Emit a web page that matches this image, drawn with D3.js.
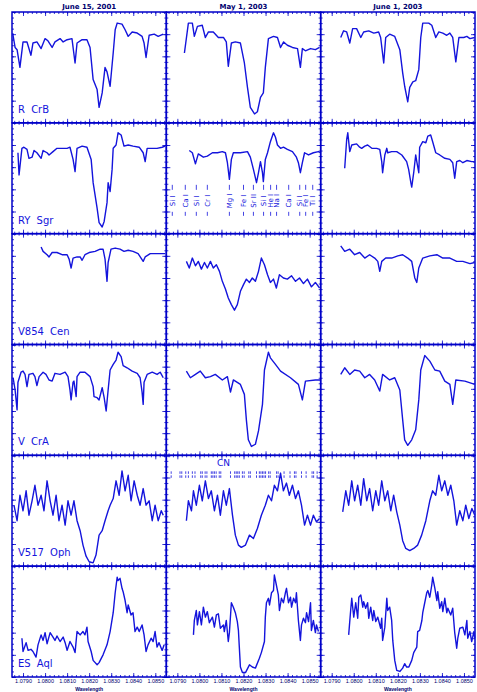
<html lang="en">
  <head>
    <meta charset="UTF-8" />
    <title>RCB star spectra</title>
    <script src="https://d3js.org/d3.v7.min.js"></script>
    <style>
      body { margin: 0; background: #fff; }
      svg { display: block; }
      .tick text { font-family: "Liberation Sans", Arial, sans-serif; }
    </style>
  </head>
  <body>
    <svg id="chart" width="477" height="692"></svg>
    <script>
      // dates of the three observing runs (columns) and the stars (rows)
      var dates = ["June 15, 2001", "May 1, 2003", "June 1, 2003"];
      var stars = ["R CrB", "RY Sgr", "V854 Cen", "V CrA", "V517 Oph", "ES Aql"];
      var xTicks = [1.079, 1.08, 1.081, 1.082, 1.083, 1.084, 1.085];

      // spectra: [wavelength (micron), normalised flux]
      var rcrb1 = [[1.07853,0.81],[1.07864,0.68],[1.07873,0.66],[1.07886,0.50],[1.07900,0.73],[1.07918,0.73],[1.07936,0.61],[1.07945,0.72],[1.07963,0.73],[1.07982,0.67],[1.08000,0.76],[1.08013,0.74],[1.08032,0.68],[1.08045,0.73],[1.08068,0.76],[1.08082,0.73],[1.08100,0.75],[1.08122,0.76],[1.08136,0.54],[1.08145,0.72],[1.08168,0.75],[1.08190,0.75],[1.08204,0.68],[1.08218,0.39],[1.08236,0.30],[1.08245,0.14],[1.08259,0.27],[1.08272,0.50],[1.08281,0.46],[1.08295,0.33],[1.08309,0.63],[1.08318,0.84],[1.08327,0.90],[1.08349,0.89],[1.08363,0.84],[1.08377,0.78],[1.08395,0.82],[1.08418,0.81],[1.08440,0.78],[1.08449,0.72],[1.08458,0.59],[1.08472,0.79],[1.08495,0.80],[1.08513,0.78],[1.08536,0.80]];
      var rcrb2 = [[1.07932,0.63],[1.07950,0.90],[1.07968,0.90],[1.07977,0.78],[1.07991,0.87],[1.08013,0.88],[1.08027,0.77],[1.08041,0.82],[1.08063,0.82],[1.08086,0.77],[1.08109,0.77],[1.08122,0.73],[1.08131,0.51],[1.08145,0.72],[1.08163,0.73],[1.08186,0.72],[1.08204,0.54],[1.08218,0.32],[1.08231,0.14],[1.08250,0.08],[1.08263,0.10],[1.08277,0.23],[1.08290,0.27],[1.08299,0.50],[1.08313,0.76],[1.08336,0.78],[1.08354,0.77],[1.08368,0.68],[1.08382,0.73],[1.08399,0.70],[1.08422,0.68],[1.08445,0.67],[1.08458,0.50],[1.08467,0.67],[1.08481,0.65],[1.08504,0.67],[1.08526,0.66],[1.08545,0.68]];
      var rcrb3 = [[1.07941,0.77],[1.07954,0.83],[1.07968,0.82],[1.07982,0.72],[1.07995,0.85],[1.08013,0.85],[1.08032,0.77],[1.08045,0.82],[1.08068,0.83],[1.08091,0.81],[1.08113,0.82],[1.08122,0.77],[1.08136,0.54],[1.08145,0.77],[1.08163,0.80],[1.08186,0.78],[1.08209,0.66],[1.08222,0.45],[1.08231,0.33],[1.08245,0.19],[1.08254,0.32],[1.08268,0.37],[1.08281,0.38],[1.08295,0.48],[1.08304,0.77],[1.08313,0.90],[1.08340,0.90],[1.08354,0.88],[1.08372,0.77],[1.08386,0.82],[1.08404,0.81],[1.08422,0.79],[1.08436,0.81],[1.08449,0.77],[1.08463,0.55],[1.08477,0.77],[1.08499,0.77],[1.08513,0.78],[1.08527,0.76],[1.08549,0.77]];

      var rysgr1 = [[1.07877,0.73],[1.07882,0.53],[1.07895,0.77],[1.07904,0.78],[1.07918,0.76],[1.07927,0.68],[1.07941,0.69],[1.07950,0.75],[1.07963,0.73],[1.07982,0.68],[1.07991,0.75],[1.08009,0.73],[1.08018,0.71],[1.08036,0.74],[1.08054,0.77],[1.08077,0.77],[1.08100,0.77],[1.08113,0.78],[1.08127,0.67],[1.08136,0.56],[1.08145,0.77],[1.08168,0.79],[1.08190,0.78],[1.08209,0.67],[1.08218,0.46],[1.08236,0.23],[1.08245,0.10],[1.08259,0.06],[1.08268,0.11],[1.08281,0.28],[1.08286,0.46],[1.08295,0.38],[1.08304,0.58],[1.08309,0.77],[1.08322,0.80],[1.08331,0.91],[1.08345,0.89],[1.08358,0.79],[1.08377,0.80],[1.08399,0.79],[1.08427,0.78],[1.08445,0.73],[1.08454,0.65],[1.08463,0.77],[1.08486,0.77],[1.08508,0.77],[1.08531,0.78],[1.08545,0.79]];
      var rysgr2 = [[1.07954,0.75],[1.07968,0.73],[1.07982,0.63],[1.07995,0.72],[1.08018,0.69],[1.08036,0.70],[1.08059,0.73],[1.08082,0.73],[1.08104,0.74],[1.08118,0.73],[1.08127,0.64],[1.08136,0.49],[1.08145,0.67],[1.08154,0.73],[1.08186,0.73],[1.08218,0.74],[1.08231,0.69],[1.08245,0.58],[1.08259,0.46],[1.08268,0.55],[1.08277,0.65],[1.08286,0.55],[1.08290,0.47],[1.08299,0.67],[1.08309,0.73],[1.08322,0.83],[1.08336,0.91],[1.08345,0.87],[1.08354,0.80],[1.08368,0.77],[1.08381,0.78],[1.08399,0.76],[1.08422,0.74],[1.08440,0.69],[1.08449,0.64],[1.08458,0.55],[1.08467,0.64],[1.08477,0.73],[1.08495,0.71],[1.08517,0.73],[1.08540,0.74],[1.08549,0.73]];
      var rysgr3 = [[1.07959,0.59],[1.07968,0.85],[1.07973,0.91],[1.07982,0.74],[1.07991,0.80],[1.08013,0.81],[1.08027,0.78],[1.08036,0.77],[1.08050,0.79],[1.08063,0.80],[1.08082,0.77],[1.08104,0.77],[1.08118,0.76],[1.08127,0.65],[1.08131,0.55],[1.08141,0.71],[1.08150,0.77],[1.08154,0.73],[1.08172,0.74],[1.08195,0.74],[1.08218,0.71],[1.08240,0.65],[1.08249,0.58],[1.08259,0.46],[1.08263,0.42],[1.08272,0.55],[1.08281,0.71],[1.08286,0.65],[1.08295,0.55],[1.08299,0.78],[1.08313,0.83],[1.08327,0.82],[1.08336,0.88],[1.08349,0.89],[1.08358,0.83],[1.08372,0.73],[1.08390,0.71],[1.08413,0.68],[1.08436,0.67],[1.08449,0.64],[1.08458,0.50],[1.08467,0.65],[1.08481,0.66],[1.08495,0.64],[1.08513,0.66],[1.08535,0.65],[1.08549,0.65]];

      var v854a = [[1.07982,0.88],[1.07991,0.84],[1.08009,0.81],[1.08018,0.79],[1.08032,0.83],[1.08054,0.83],[1.08077,0.81],[1.08100,0.81],[1.08109,0.77],[1.08118,0.69],[1.08127,0.78],[1.08145,0.79],[1.08159,0.79],[1.08168,0.76],[1.08181,0.81],[1.08200,0.83],[1.08227,0.84],[1.08250,0.86],[1.08263,0.86],[1.08272,0.77],[1.08281,0.57],[1.08286,0.74],[1.08299,0.86],[1.08318,0.87],[1.08340,0.86],[1.08358,0.84],[1.08377,0.85],[1.08399,0.84],[1.08422,0.82],[1.08445,0.75],[1.08454,0.79],[1.08477,0.82],[1.08508,0.82],[1.08545,0.82]];
      var v854b = [[1.07941,0.75],[1.07954,0.69],[1.07968,0.78],[1.07982,0.71],[1.07995,0.75],[1.08009,0.68],[1.08023,0.74],[1.08036,0.69],[1.08050,0.75],[1.08063,0.69],[1.08077,0.72],[1.08091,0.66],[1.08104,0.57],[1.08118,0.50],[1.08131,0.42],[1.08145,0.36],[1.08159,0.31],[1.08172,0.36],[1.08186,0.48],[1.08200,0.54],[1.08213,0.59],[1.08227,0.56],[1.08240,0.60],[1.08254,0.57],[1.08268,0.66],[1.08281,0.78],[1.08295,0.72],[1.08309,0.63],[1.08322,0.56],[1.08336,0.59],[1.08349,0.51],[1.08363,0.63],[1.08381,0.60],[1.08399,0.59],[1.08418,0.62],[1.08436,0.57],[1.08454,0.60],[1.08472,0.55],[1.08490,0.59],[1.08508,0.52],[1.08526,0.56],[1.08545,0.51]];
      var v854c = [[1.07941,0.89],[1.07959,0.84],[1.07982,0.86],[1.08004,0.81],[1.08027,0.83],[1.08050,0.78],[1.08072,0.81],[1.08095,0.78],[1.08109,0.75],[1.08118,0.66],[1.08127,0.75],[1.08145,0.78],[1.08172,0.78],[1.08200,0.80],[1.08222,0.81],[1.08245,0.78],[1.08263,0.75],[1.08277,0.60],[1.08286,0.56],[1.08295,0.69],[1.08313,0.78],[1.08345,0.80],[1.08377,0.81],[1.08404,0.78],[1.08436,0.78],[1.08467,0.75],[1.08495,0.75],[1.08527,0.73],[1.08549,0.74]];

      var vcra1 = [[1.07855,0.70],[1.07864,0.59],[1.07873,0.41],[1.07877,0.66],[1.07891,0.75],[1.07900,0.76],[1.07909,0.73],[1.07918,0.62],[1.07927,0.73],[1.07945,0.74],[1.07954,0.71],[1.07963,0.63],[1.07973,0.71],[1.07991,0.75],[1.08004,0.73],[1.08018,0.68],[1.08032,0.67],[1.08045,0.74],[1.08068,0.73],[1.08091,0.75],[1.08104,0.71],[1.08113,0.59],[1.08118,0.50],[1.08127,0.66],[1.08131,0.67],[1.08141,0.53],[1.08145,0.71],[1.08159,0.75],[1.08181,0.75],[1.08204,0.71],[1.08218,0.62],[1.08222,0.53],[1.08236,0.52],[1.08245,0.50],[1.08259,0.61],[1.08268,0.52],[1.08277,0.40],[1.08286,0.59],[1.08295,0.77],[1.08309,0.82],[1.08322,0.86],[1.08331,0.93],[1.08345,0.89],[1.08354,0.81],[1.08372,0.79],[1.08395,0.76],[1.08418,0.74],[1.08431,0.70],[1.08440,0.57],[1.08445,0.46],[1.08449,0.66],[1.08463,0.73],[1.08486,0.75],[1.08508,0.73],[1.08522,0.75],[1.08536,0.70]];
      var vcra2 = [[1.07941,0.76],[1.07959,0.70],[1.07982,0.73],[1.08004,0.76],[1.08027,0.70],[1.08050,0.71],[1.08072,0.73],[1.08104,0.68],[1.08127,0.71],[1.08141,0.57],[1.08154,0.68],[1.08186,0.64],[1.08204,0.55],[1.08213,0.32],[1.08222,0.14],[1.08236,0.08],[1.08254,0.10],[1.08268,0.22],[1.08286,0.46],[1.08295,0.77],[1.08313,0.93],[1.08322,0.88],[1.08345,0.82],[1.08368,0.76],[1.08413,0.70],[1.08449,0.64],[1.08467,0.50],[1.08481,0.67],[1.08526,0.68],[1.08549,0.68]];
      var vcra3 = [[1.07941,0.73],[1.07959,0.79],[1.07982,0.73],[1.08004,0.77],[1.08027,0.76],[1.08050,0.70],[1.08072,0.73],[1.08095,0.68],[1.08118,0.58],[1.08131,0.73],[1.08163,0.68],[1.08186,0.70],[1.08209,0.59],[1.08222,0.32],[1.08231,0.14],[1.08245,0.09],[1.08263,0.14],[1.08281,0.23],[1.08295,0.50],[1.08304,0.77],[1.08322,0.90],[1.08345,0.85],[1.08368,0.77],[1.08390,0.76],[1.08413,0.67],[1.08436,0.64],[1.08449,0.46],[1.08463,0.68],[1.08504,0.67],[1.08549,0.64]];

      var v517a = [[1.07859,0.55],[1.07873,0.41],[1.07886,0.64],[1.07900,0.50],[1.07914,0.68],[1.07927,0.46],[1.07941,0.59],[1.07954,0.73],[1.07968,0.55],[1.07982,0.64],[1.07995,0.50],[1.08009,0.77],[1.08023,0.59],[1.08036,0.46],[1.08050,0.64],[1.08063,0.41],[1.08077,0.55],[1.08091,0.37],[1.08104,0.59],[1.08118,0.46],[1.08131,0.59],[1.08145,0.41],[1.08159,0.32],[1.08172,0.19],[1.08186,0.09],[1.08200,0.04],[1.08218,0.03],[1.08231,0.10],[1.08245,0.28],[1.08259,0.32],[1.08272,0.41],[1.08286,0.50],[1.08295,0.55],[1.08309,0.61],[1.08322,0.77],[1.08336,0.64],[1.08349,0.86],[1.08363,0.68],[1.08377,0.82],[1.08390,0.59],[1.08404,0.77],[1.08418,0.64],[1.08431,0.55],[1.08445,0.70],[1.08458,0.55],[1.08472,0.59],[1.08486,0.41],[1.08499,0.55],[1.08513,0.41],[1.08527,0.50],[1.08536,0.46]];
      var v517b = [[1.07941,0.41],[1.07950,0.59],[1.07964,0.50],[1.07973,0.68],[1.07986,0.55],[1.08000,0.73],[1.08013,0.59],[1.08027,0.77],[1.08041,0.61],[1.08054,0.68],[1.08068,0.50],[1.08082,0.64],[1.08095,0.46],[1.08109,0.68],[1.08122,0.55],[1.08136,0.70],[1.08150,0.46],[1.08163,0.28],[1.08177,0.19],[1.08190,0.17],[1.08209,0.19],[1.08227,0.28],[1.08245,0.25],[1.08263,0.34],[1.08281,0.46],[1.08299,0.55],[1.08313,0.64],[1.08327,0.59],[1.08340,0.73],[1.08354,0.68],[1.08368,0.84],[1.08381,0.68],[1.08395,0.75],[1.08408,0.64],[1.08422,0.73],[1.08436,0.61],[1.08449,0.68],[1.08463,0.55],[1.08477,0.37],[1.08490,0.46],[1.08504,0.37],[1.08517,0.46],[1.08531,0.40],[1.08545,0.43]];
      var v517c = [[1.07950,0.49],[1.07964,0.68],[1.07977,0.55],[1.07991,0.77],[1.08004,0.59],[1.08018,0.73],[1.08032,0.55],[1.08045,0.79],[1.08059,0.59],[1.08072,0.70],[1.08086,0.50],[1.08100,0.68],[1.08113,0.55],[1.08127,0.77],[1.08141,0.59],[1.08154,0.68],[1.08168,0.50],[1.08181,0.64],[1.08195,0.49],[1.08209,0.37],[1.08222,0.23],[1.08236,0.16],[1.08254,0.14],[1.08272,0.16],[1.08290,0.19],[1.08308,0.28],[1.08327,0.41],[1.08345,0.59],[1.08358,0.68],[1.08372,0.64],[1.08386,0.82],[1.08399,0.68],[1.08413,0.77],[1.08427,0.64],[1.08440,0.73],[1.08454,0.59],[1.08467,0.37],[1.08481,0.50],[1.08495,0.41],[1.08508,0.55],[1.08522,0.43],[1.08536,0.52],[1.08549,0.46]];

      var esaql1 = [[1.07895,0.35],[1.07900,0.23],[1.07914,0.31],[1.07923,0.24],[1.07936,0.25],[1.07945,0.23],[1.07959,0.18],[1.07968,0.29],[1.07982,0.38],[1.07991,0.33],[1.08000,0.40],[1.08009,0.30],[1.08023,0.40],[1.08036,0.36],[1.08045,0.33],[1.08054,0.37],[1.08068,0.32],[1.08082,0.36],[1.08091,0.31],[1.08100,0.24],[1.08113,0.32],[1.08127,0.27],[1.08136,0.22],[1.08145,0.41],[1.08159,0.38],[1.08172,0.41],[1.08181,0.38],[1.08190,0.45],[1.08195,0.32],[1.08209,0.23],[1.08218,0.15],[1.08236,0.11],[1.08245,0.13],[1.08263,0.20],[1.08281,0.29],[1.08295,0.41],[1.08309,0.58],[1.08318,0.76],[1.08327,0.90],[1.08331,0.87],[1.08340,0.89],[1.08349,0.80],[1.08354,0.77],[1.08363,0.69],[1.08372,0.58],[1.08377,0.65],[1.08390,0.56],[1.08399,0.58],[1.08408,0.41],[1.08418,0.45],[1.08427,0.41],[1.08440,0.47],[1.08449,0.38],[1.08458,0.23],[1.08467,0.29],[1.08481,0.35],[1.08490,0.32],[1.08499,0.41],[1.08508,0.27],[1.08517,0.31],[1.08531,0.24],[1.08540,0.29]];
      var esaql2 = [[1.07973,0.38],[1.07977,0.51],[1.07986,0.60],[1.07991,0.47],[1.08000,0.59],[1.08009,0.47],[1.08018,0.63],[1.08027,0.54],[1.08036,0.59],[1.08045,0.49],[1.08059,0.54],[1.08068,0.45],[1.08077,0.56],[1.08086,0.57],[1.08095,0.44],[1.08109,0.47],[1.08113,0.41],[1.08122,0.51],[1.08131,0.32],[1.08136,0.40],[1.08145,0.67],[1.08154,0.63],[1.08163,0.58],[1.08172,0.50],[1.08177,0.42],[1.08181,0.27],[1.08186,0.09],[1.08195,0.04],[1.08209,0.04],[1.08227,0.11],[1.08240,0.09],[1.08254,0.08],[1.08272,0.17],[1.08281,0.22],[1.08295,0.32],[1.08299,0.54],[1.08304,0.67],[1.08313,0.71],[1.08318,0.65],[1.08327,0.76],[1.08336,0.78],[1.08340,0.92],[1.08349,0.83],[1.08358,0.74],[1.08363,0.60],[1.08372,0.71],[1.08381,0.67],[1.08390,0.76],[1.08395,0.80],[1.08404,0.67],[1.08413,0.72],[1.08418,0.63],[1.08427,0.71],[1.08436,0.67],[1.08440,0.76],[1.08449,0.51],[1.08458,0.33],[1.08463,0.47],[1.08472,0.53],[1.08481,0.49],[1.08486,0.58],[1.08495,0.50],[1.08504,0.67],[1.08508,0.42],[1.08517,0.51],[1.08526,0.40],[1.08531,0.47],[1.08540,0.41]];
      var esaql3 = [[1.07977,0.38],[1.07986,0.60],[1.07991,0.71],[1.08000,0.54],[1.08009,0.67],[1.08018,0.53],[1.08023,0.72],[1.08032,0.74],[1.08041,0.63],[1.08045,0.68],[1.08054,0.62],[1.08063,0.67],[1.08068,0.53],[1.08077,0.63],[1.08086,0.51],[1.08091,0.60],[1.08100,0.50],[1.08109,0.54],[1.08122,0.44],[1.08127,0.53],[1.08131,0.33],[1.08141,0.45],[1.08150,0.71],[1.08154,0.60],[1.08163,0.63],[1.08172,0.51],[1.08177,0.33],[1.08186,0.15],[1.08195,0.06],[1.08209,0.05],[1.08222,0.08],[1.08231,0.12],[1.08240,0.09],[1.08250,0.09],[1.08263,0.15],[1.08272,0.22],[1.08286,0.27],[1.08290,0.41],[1.08299,0.42],[1.08309,0.51],[1.08313,0.58],[1.08322,0.67],[1.08331,0.76],[1.08336,0.78],[1.08345,0.72],[1.08354,0.83],[1.08358,0.90],[1.08368,0.80],[1.08377,0.69],[1.08381,0.77],[1.08390,0.62],[1.08399,0.68],[1.08404,0.59],[1.08413,0.71],[1.08422,0.58],[1.08427,0.62],[1.08440,0.56],[1.08449,0.62],[1.08458,0.40],[1.08467,0.26],[1.08472,0.35],[1.08481,0.44],[1.08495,0.45],[1.08504,0.38],[1.08513,0.51],[1.08517,0.35],[1.08527,0.41],[1.08535,0.32],[1.08545,0.41],[1.08549,0.35]];

      var spectra = [
        [rcrb1, rcrb2, rcrb3],
        [rysgr1, rysgr2, rysgr3],
        [v854a, v854b, v854c],
        [vcra1, vcra2, vcra3],
        [v517a, v517b, v517c],
        [esaql1, esaql2, esaql3]
      ];

      // line identifications marked in RY Sgr, May 1 2003
      var idWaves = [1.07877, 1.07936, 1.07986, 1.08036, 1.08136, 1.08200, 1.08245, 1.08291, 1.08323, 1.08350, 1.08405, 1.08455, 1.08482, 1.08514];
      var idLabels = ["Si I", "Ca I", "Si I", "Cr I", "Mg I", "Fe I", "Sr II", "Si I", "He I", "Na I", "Ca I", "Si I", "Fe I", "Ti I"];
      // CN line positions marked in V517 Oph, May 1 2003
      var cnWaves = [1.07872, 1.07912, 1.07920, 1.07938, 1.07950, 1.07968, 1.07980, 1.08006, 1.08013, 1.08026, 1.08034, 1.08054, 1.08061, 1.08068, 1.08076, 1.08090, 1.08097, 1.08141, 1.08160, 1.08167, 1.08174, 1.08181, 1.08195, 1.08203, 1.08224, 1.08231, 1.08259, 1.08272, 1.08279, 1.08286, 1.08293, 1.08300, 1.08314, 1.08321, 1.08350, 1.08357, 1.08384, 1.08411, 1.08431, 1.08438, 1.08463, 1.08484, 1.08511, 1.08518, 1.08534];

      var svg = d3.select("#chart");
      var marginL = 12, marginT = 12, fullW = 463, fullH = 665;
      var cellW = fullW / 3, cellH = fullH / 6;
      var blue = "#1414dc", frame = "#0000c8", ink = "#00006e";

      svg.append("g")
        .selectAll("text")
        .data(dates)
        .enter()
        .append("text")
        .attr("x", function (d, i) { return marginL + cellW * (i + 0.5); })
        .attr("y", 9)
        .attr("text-anchor", "middle")
        .style("font-family", "DejaVu Sans, sans-serif")
        .style("font-size", "7px")
        .style("font-weight", "bold")
        .style("fill", ink)
        .text(function (d) { return d; });

      var line = d3.line();

      spectra.forEach(function (row, r) {
        row.forEach(function (spec, c) {
          var x0 = marginL + c * cellW, y0 = marginT + r * cellH;
          var x = d3.scaleLinear().domain([1.0785, 1.0855]).range([x0, x0 + cellW]);
          var y = d3.scaleLinear().domain([0, 1]).range([y0 + cellH, y0]);
          var g = svg.append("g");

          // minor and major ticks, pointing inwards on all four sides
          [[d3.axisBottom, y0 + cellH], [d3.axisTop, y0]].forEach(function (a) {
            g.append("g").attr("transform", "translate(0," + a[1] + ")")
              .call(a[0](x).tickValues(x.ticks(35)).tickSize(-2).tickFormat(""));
            g.append("g").attr("transform", "translate(0," + a[1] + ")")
              .call(a[0](x).tickValues(xTicks).tickSize(-4).tickFormat(""));
          });
          [[d3.axisLeft, x0], [d3.axisRight, x0 + cellW]].forEach(function (a) {
            g.append("g").attr("transform", "translate(" + a[1] + ",0)")
              .call(a[0](y).ticks(20).tickSize(-2).tickFormat(""));
            g.append("g").attr("transform", "translate(" + a[1] + ",0)")
              .call(a[0](y).ticks(5).tickSize(-4).tickFormat(""));
          });
          g.selectAll(".domain").remove();
          g.selectAll(".tick line").attr("stroke", frame).attr("stroke-width", 0.8);

          g.append("rect")
            .attr("x", x0).attr("y", y0)
            .attr("width", cellW).attr("height", cellH)
            .attr("fill", "none").attr("stroke", frame).attr("stroke-width", 1.5);

          line.x(function (d) { return x(d[0]); }).y(function (d) { return y(d[1]); });
          g.append("path")
            .datum(spec)
            .attr("d", line)
            .attr("fill", "none")
            .attr("stroke", blue)
            .attr("stroke-width", 1.4)
            .attr("stroke-linejoin", "round");

          if (c === 0) {
            g.append("text")
              .attr("x", x0 + 6).attr("y", y0 + cellH - 10)
              .attr("xml:space", "preserve")
              .style("font-family", "DejaVu Sans, sans-serif")
              .style("font-size", "10px")
              .style("word-spacing", "3px")
              .style("fill", blue)
              .text(stars[r]);
          }

          if (r === 5) {
            var ax = g.append("g").attr("transform", "translate(0," + (y0 + cellH) + ")")
              .call(d3.axisBottom(x).tickValues(xTicks).tickSize(0).tickPadding(2)
                .tickFormat(d3.format(".4f")));
            ax.select(".domain").remove();
            ax.selectAll("text").style("font-size", "5.5px").style("fill", ink);
            g.append("text")
              .attr("x", x0 + cellW / 2).attr("y", 691)
              .attr("text-anchor", "middle")
              .style("font-family", "Liberation Sans, Arial, sans-serif")
              .style("font-size", "5px")
              .style("font-weight", "bold")
              .style("fill", ink)
              .text("Wavelength");
          }

          if (r === 1 && c === 1) {
            var ids = g.append("g").selectAll("g")
              .data(idWaves)
              .enter()
              .append("g")
              .attr("transform", function (d) { return "translate(" + x(d) + ",0)"; });
            ids.append("line").attr("y1", y0 + 62).attr("y2", y0 + 67)
              .attr("stroke", blue).attr("stroke-width", 0.8);
            ids.append("line").attr("y1", y0 + 89).attr("y2", y0 + 93)
              .attr("stroke", blue).attr("stroke-width", 0.8);
            ids.append("text")
              .attr("transform", "translate(2.5," + (y0 + 78) + ") rotate(-90)")
              .attr("text-anchor", "middle")
              .style("font-family", "DejaVu Sans, sans-serif")
              .style("font-size", "7px")
              .style("fill", blue)
              .text(function (d, i) { return idLabels[i]; });
          }

          if (r === 4 && c === 1) {
            g.append("text")
              .attr("x", x(1.0808)).attr("y", y0 + 11)
              .style("font-family", "DejaVu Sans, sans-serif")
              .style("font-size", "9px")
              .style("fill", blue)
              .text("CN");
            var cn = g.append("g").selectAll("g")
              .data(cnWaves)
              .enter()
              .append("g")
              .attr("transform", function (d) { return "translate(" + x(d) + ",0)"; });
            cn.append("line").attr("y1", y0 + 16).attr("y2", y0 + 18.5)
              .attr("stroke", blue).attr("stroke-width", 0.8);
            cn.append("line").attr("y1", y0 + 20).attr("y2", y0 + 22.5)
              .attr("stroke", blue).attr("stroke-width", 0.8);
          }
        });
      });
    </script>
  </body>
</html>
